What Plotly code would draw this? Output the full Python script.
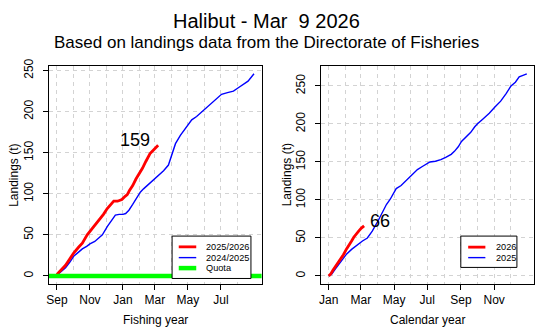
import plotly.graph_objects as go

# ---------------- data ----------------
# Fishing year (day 0 = 1 Sep)
fy_2526_day = [0, 8, 16, 24, 31, 40, 47, 56, 62, 70, 78, 86, 93, 100, 105, 112, 120, 126, 130, 134, 140, 146, 152, 158, 164, 172, 178, 183, 187]
fy_2526_val = [2, 7, 13, 21, 28, 35, 40, 50, 55, 61, 68, 75, 82, 88, 91, 91, 93, 97, 99, 104, 110, 118, 124, 131, 139, 149, 153, 157, 159]

fy_2425_day = [0, 8, 16, 24, 31, 40, 47, 55, 61, 70, 78, 84, 93, 100, 108, 115, 122, 127, 133, 140, 147, 154, 160, 170, 180, 188, 197, 206, 210, 214, 219, 228, 236, 243, 249, 258, 268, 274, 286, 295, 304, 315, 326, 335, 344, 353, 364]
fy_2425_val = [1, 5, 10, 17, 24, 29, 33, 36, 39, 42, 46, 50, 60, 67, 74, 75, 75, 76, 80, 87, 94, 102, 106, 112, 117, 122, 128, 135, 143, 151, 161, 171, 178, 185, 190, 194, 200, 204, 211, 216, 221, 223, 225, 229, 233, 237, 246]

quota = 0

# Calendar year (day 0 = 1 Jan)
cy_2026_day = [0, 4, 8, 12, 17, 22, 27, 33, 38, 42, 46, 51, 55, 60, 65]
cy_2026_val = [0, 3, 8, 12, 17, 22, 28, 36, 41, 46, 51, 56, 59, 63, 66]

cy_2025_day = [0, 5, 12, 20, 28, 33, 42, 54, 62, 71, 80, 91, 100, 106, 113, 118, 124, 133, 142, 148, 156, 163, 172, 180, 186, 196, 206, 215, 225, 231, 238, 244, 252, 261, 268, 273, 284, 295, 305, 316, 326, 335, 343, 350, 357, 364]
cy_2025_val = [0, 2, 9, 17, 25, 29, 35, 42, 46, 50, 59, 73, 86, 94, 101, 108, 115, 119, 125, 129, 134, 140, 144, 147, 150, 151, 153, 156, 160, 164, 170, 177, 183, 189, 196, 200, 207, 214, 222, 230, 240, 250, 255, 262, 264, 266]

fy_major_days = [0, 61, 122, 181, 242, 303]
fy_major_text = ["Sep", "Nov", "Jan", "Mar", "May", "Jul"]
fy_minor_days = [30, 91, 153, 212, 273, 334]

cy_major_days = [0, 59, 120, 181, 243, 304]
cy_major_text = ["Jan", "Mar", "May", "Jul", "Sep", "Nov"]
cy_minor_days = [31, 90, 151, 212, 273, 334]

y_ticks = [0, 50, 100, 150, 200, 250]

title_text = "Halibut - Mar\u00a0 9 2026"
subtitle_text = "Based on landings data from the Directorate of Fisheries"

# ---------------- figure ----------------
W, H = 555, 333
FONT = "Liberation Sans, Arial, sans-serif"
GRID = "#d3d3d3"

fig = go.Figure()

fig.add_trace(go.Scatter(x=fy_2425_day, y=fy_2425_val, mode="lines",
                         line=dict(color="#0000ff", width=1.4), xaxis="x", yaxis="y", showlegend=False))
fig.add_trace(go.Scatter(x=fy_2526_day, y=fy_2526_val, mode="lines",
                         line=dict(color="#ff0000", width=2.8), xaxis="x", yaxis="y", showlegend=False))
fig.add_trace(go.Scatter(x=[-40, 420], y=[quota, quota], mode="lines",
                         line=dict(color="#00ff00", width=4.5), xaxis="x", yaxis="y", showlegend=False))

fig.add_trace(go.Scatter(x=cy_2025_day, y=cy_2025_val, mode="lines",
                         line=dict(color="#0000ff", width=1.4), xaxis="x2", yaxis="y2", showlegend=False))
fig.add_trace(go.Scatter(x=cy_2026_day, y=cy_2026_val, mode="lines",
                         line=dict(color="#ff0000", width=2.8), xaxis="x2", yaxis="y2", showlegend=False))

L_dom = [46 / W, 260 / W]
R_dom = [319.3 / W, 534.3 / W]
Y_dom = [1 - 283 / H, 1 - 60 / H]

common_x = dict(showline=True, mirror=True, linecolor="black", linewidth=1,
                ticks="outside", ticklen=5, tickcolor="black", tickwidth=1,
                showgrid=True, gridcolor=GRID, griddash="4px,4px", gridwidth=1,
                zeroline=False, tickfont=dict(family=FONT, size=12, color="black"),
                tickmode="array")
common_y = dict(showline=True, mirror=True, linecolor="black", linewidth=1,
                ticks="outside", ticklen=5, tickcolor="black", tickwidth=1,
                showgrid=True, gridcolor=GRID, griddash="4px,4px", gridwidth=1,
                zeroline=False, tickfont=dict(family=FONT, size=12, color="black"),
                tickmode="array", tickvals=y_ticks, ticktext=[str(v) for v in y_ticks],
                tickangle=-90, ticklabelstandoff=5)

fig.update_layout(
    width=W, height=H,
    margin=dict(l=0, r=0, t=0, b=0),
    paper_bgcolor="white", plot_bgcolor="white",
    xaxis=dict(domain=L_dom, range=[-15, 378], anchor="y",
               tickvals=fy_major_days, ticktext=fy_major_text,
               minor=dict(tickmode="array", tickvals=fy_minor_days, showgrid=True,
                          gridcolor=GRID, griddash="4px,4px", gridwidth=1, ticks=""),
               **common_x),
    yaxis=dict(domain=Y_dom, range=[-9.8, 255.8], anchor="x", **common_y),
    xaxis2=dict(domain=R_dom, range=[-15, 378], anchor="y2",
                tickvals=cy_major_days, ticktext=cy_major_text,
                minor=dict(tickmode="array", tickvals=cy_minor_days, showgrid=True,
                           gridcolor=GRID, griddash="4px,4px", gridwidth=1, ticks=""),
                **common_x),
    yaxis2=dict(domain=Y_dom, range=[-10.6, 276.6], anchor="x2", **common_y),
    showlegend=False,
)

ann = []
def txt(x, y, s, size, **kw):
    d = dict(x=x / W, y=1 - y / H, xref="paper", yref="paper", text=s, showarrow=False,
             font=dict(family=FONT, size=size, color="black"), xanchor="center", yanchor="middle")
    d.update(kw)
    ann.append(d)

txt(264.7, 14, title_text, 20)
txt(264.7, 36, subtitle_text, 17)
txt(153, 320, "Fishing year", 12)
txt(426.8, 320, "Calendar year", 12)
txt(11, 171.5, "Landings (t)", 12, textangle=-90)
txt(285, 171.5, "Landings (t)", 12, textangle=-90)

# end-value labels (data coords)
ann.append(dict(x=fy_2526_day[-1] - 42, y=fy_2526_val[-1] + 7, xref="x", yref="y",
                text=str(fy_2526_val[-1]), showarrow=False,
                font=dict(family=FONT, size=18, color="black"), xanchor="center", yanchor="middle"))
ann.append(dict(x=cy_2026_day[-1] + 30, y=cy_2026_val[-1] + 6, xref="x2", yref="y2",
                text=str(cy_2026_val[-1]), showarrow=False,
                font=dict(family=FONT, size=18, color="black"), xanchor="center", yanchor="middle"))

# legends (drawn manually, R-style)
shapes = []
def box(x0, y0, x1, y1):
    shapes.append(dict(type="rect", xref="paper", yref="paper", x0=x0 / W, x1=x1 / W,
                       y0=1 - y1 / H, y1=1 - y0 / H, line=dict(color="black", width=1),
                       fillcolor="white", layer="above"))
def seg(x0, x1, y, color, width):
    shapes.append(dict(type="line", xref="paper", yref="paper", x0=x0 / W, x1=x1 / W,
                       y0=1 - y / H, y1=1 - y / H, line=dict(color=color, width=width), layer="above"))

box(170, 234, 249.3, 277.3)
for yy, col, wd, lab in [(245, "#ff0000", 2.8, "2025/2026"), (256, "#0000ff", 1.4, "2024/2025"), (266.7, "#00ff00", 4.5, "Quota")]:
    seg(176.7, 194.3, yy, col, wd)
    txt(201.7, yy, lab, 9.2, xanchor="left")

box(460.3, 234, 516.7, 266)
for yy, col, wd, lab in [(245.3, "#ff0000", 2.8, "2026"), (256, "#0000ff", 1.4, "2025")]:
    seg(467.7, 485, yy, col, wd)
    txt(493.3, yy, lab, 9.2, xanchor="left")

fig.update_layout(annotations=ann, shapes=shapes)

fig.write_html("out.html")
